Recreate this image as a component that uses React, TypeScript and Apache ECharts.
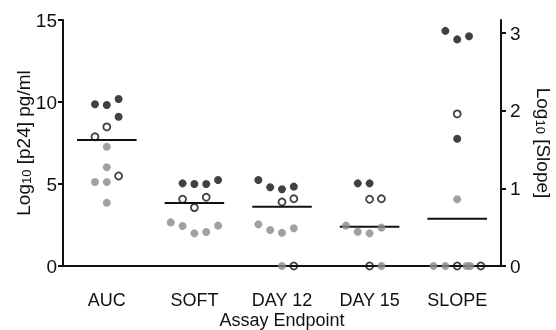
import React, { useEffect, useRef } from "react";
import * as echarts from "echarts";

const categories = ["AUC", "SOFT", "DAY 12", "DAY 15", "SLOPE"];
const leftTicks = [0, 5, 10, 15];
const rightTicks = [0, 1, 2, 3];

// Values per group; "slot" = column position of the dot inside its cluster
const aucBlack = [9.86, 9.82, 10.18, 9.1];
const aucBlackSlot = [-1, 0, 1, 1];
const aucOpen = [7.88, 8.48, 5.49];
const aucOpenSlot = [-1, 0, 1];
const aucGrey = [7.27, 6.02, 5.12, 5.12, 3.86];
const aucGreySlot = [0, 0, -1, 0, 0];

const softBlack = [5.04, 5.0, 5.0, 5.24];
const softBlackSlot = [-1, 0, 1, 2];
const softOpen = [4.07, 3.56, 4.19];
const softOpenSlot = [-1, 0, 1];
const softGrey = [2.66, 2.44, 1.99, 2.07, 2.46];
const softGreySlot = [-2, -1, 0, 1, 2];

const day12Black = [5.24, 4.8, 4.68, 4.84];
const day12BlackSlot = [-2, -1, 0, 1];
const day12Open = [3.9, 4.1, 0];
const day12OpenSlot = [0, 1, 1];
const day12Grey = [2.54, 2.2, 2.03, 2.3, 0];
const day12GreySlot = [-2, -1, 0, 1, 0];

const day15Black = [5.04, 5.04];
const day15BlackSlot = [-1, 0];
const day15Open = [4.07, 4.1, 0];
const day15OpenSlot = [0, 1, 0];
const day15Grey = [2.46, 2.09, 1.99, 2.34, 0];
const day15GreySlot = [-2, -1, 0, 1, 1];

// SLOPE group on the right axis (Log10 [Slope])
const slopeBlack = [3.03, 2.92, 2.96, 1.64];
const slopeBlackSlot = [-1, 0, 1, 0];
const slopeOpen = [1.96, 0, 0];
const slopeOpenSlot = [0, 0, 2];
const slopeGrey = [0.86, 0, 0, 0, 0];
const slopeGreySlot = [0, -2, -1, 0.8, 1.1];

const means = [7.68, 3.84, 3.62, 2.4, 0.61];

const STEP = 0.135;
const HALF = 0.34;
const FONT = "'Liberation Sans', Arial, Helvetica, sans-serif";
const INK = "#111111";
const GREY = "#8a8a8a";

function pts(values: number[], slots: number[], cat: number) {
  return values.map((v, k) => [cat + slots[k] * STEP, v]);
}

export default function App() {
  const ref = useRef<HTMLDivElement>(null);
  useEffect(() => {
    if (!ref.current) return;
    const chart = echarts.init(ref.current, null, { renderer: "svg" });

    const greyLeft = [
      ...pts(aucGrey, aucGreySlot, 0),
      ...pts(softGrey, softGreySlot, 1),
      ...pts(day12Grey, day12GreySlot, 2),
      ...pts(day15Grey, day15GreySlot, 3),
    ];
    const blackLeft = [
      ...pts(aucBlack, aucBlackSlot, 0),
      ...pts(softBlack, softBlackSlot, 1),
      ...pts(day12Black, day12BlackSlot, 2),
      ...pts(day15Black, day15BlackSlot, 3),
    ];
    const openLeft = [
      ...pts(aucOpen, aucOpenSlot, 0),
      ...pts(softOpen, softOpenSlot, 1),
      ...pts(day12Open, day12OpenSlot, 2),
      ...pts(day15Open, day15OpenSlot, 3),
    ];

    const greyStyle = { color: GREY };
    const blackStyle = { color: INK };
    const openStyle = { color: "rgba(0,0,0,0)", borderColor: INK, borderWidth: 1.8 };

    const scatter = (data: number[][], yIdx: number, style: any, size: number, z: number) => ({
      type: "scatter",
      xAxisIndex: 1,
      yAxisIndex: yIdx,
      data,
      symbol: "circle",
      symbolSize: size,
      itemStyle: style,
      z,
      silent: true,
    });

    const meanSeries = means.map((m, i) => ({
      type: "line",
      xAxisIndex: 1,
      yAxisIndex: i === 4 ? 1 : 0,
      data: [
        [i - HALF, m],
        [i + HALF, m],
      ],
      symbol: "none",
      lineStyle: { color: INK, width: 2 },
      z: 1,
      silent: true,
    }));

    const nameStyle = (size: number) => ({
      fontFamily: FONT,
      fontSize: size,
      color: INK,
      rich: {
        s: { fontFamily: FONT, fontSize: 13, color: INK, verticalAlign: "bottom", lineHeight: 13, padding: [8, 0, 0, 0] },
      },
    });

    chart.setOption({
      animation: false,
      textStyle: { fontFamily: FONT },
      grid: { left: 63, right: 55, top: 20, bottom: 64, containLabel: false, outerBoundsMode: "none" },
      xAxis: [
        {
          type: "category",
          data: categories,
          boundaryGap: true,
          axisLine: { onZero: false, lineStyle: { color: INK, width: 2 } },
          axisTick: { show: false },
          axisLabel: { fontFamily: FONT, fontSize: 18, lineHeight: 16, color: INK, margin: 26 },
          name: "Assay Endpoint",
          nameLocation: "middle",
          nameGap: 46,
          nameMoveOverlap: false,
          nameTextStyle: { fontFamily: FONT, fontSize: 18, lineHeight: 16, color: INK },
          splitLine: { show: false },
        },
        {
          type: "value",
          min: -0.5,
          max: 4.5,
          show: false,
          splitLine: { show: false },
        },
      ],
      yAxis: [
        {
          type: "value",
          min: 0,
          max: 15,
          interval: 5,
          position: "left",
          axisLine: { show: true, onZero: false, lineStyle: { color: INK, width: 2 } },
          axisTick: { show: true, length: 5, lineStyle: { color: INK, width: 2 }, customValues: leftTicks },
          axisLabel: { fontFamily: FONT, fontSize: 19, color: INK, margin: 6, customValues: leftTicks },
          splitLine: { show: false },
          name: "Log{s|10} [p24] pg/ml",
          nameLocation: "middle",
          nameGap: 30,
          nameMoveOverlap: false,
          nameRotate: 90,
          nameTextStyle: nameStyle(19),
        },
        {
          type: "value",
          min: 0,
          max: 3.17,
          position: "right",
          axisLine: { show: true, onZero: false, lineStyle: { color: INK, width: 2 } },
          axisTick: { show: true, length: 5, lineStyle: { color: INK, width: 2 }, customValues: rightTicks },
          axisLabel: { fontFamily: FONT, fontSize: 19, color: INK, margin: 9, customValues: rightTicks },
          splitLine: { show: false },
          name: "Log{s|10} [Slope]",
          nameLocation: "middle",
          nameGap: 33,
          nameMoveOverlap: false,
          nameRotate: -90,
          nameTextStyle: nameStyle(19),
        },
      ],
      series: [
        ...meanSeries,
        scatter(greyLeft, 0, greyStyle, 8, 3),
        scatter(pts(slopeGrey, slopeGreySlot, 4), 1, greyStyle, 8, 3),
        scatter(blackLeft, 0, blackStyle, 8, 4),
        scatter(pts(slopeBlack, slopeBlackSlot, 4), 1, blackStyle, 8, 4),
        scatter(openLeft, 0, openStyle, 7, 5),
        scatter(pts(slopeOpen, slopeOpenSlot, 4), 1, openStyle, 7, 5),
      ],
    });
    return () => chart.dispose();
  }, []);
  return <div ref={ref} style={{ position: "fixed", left: 0, top: 0, width: 556, height: 330 }} />;
}
